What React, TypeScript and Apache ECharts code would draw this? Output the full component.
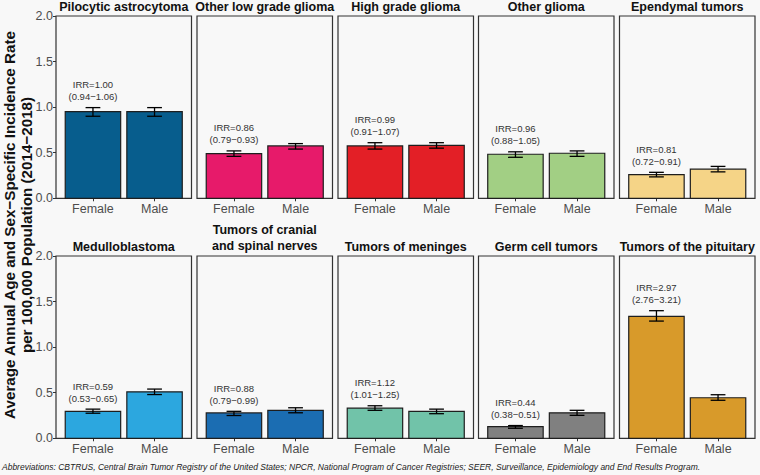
import React, { useEffect, useRef } from "react";
import * as echarts from "echarts";

const categories = [
  "Pilocytic astrocytoma",
  "Other low grade glioma",
  "High grade glioma",
  "Other glioma",
  "Ependymal tumors",
  "Medulloblastoma",
  "Tumors of cranial\nand spinal nerves",
  "Tumors of meninges",
  "Germ cell tumors",
  "Tumors of the pituitary",
];
const sexes = ["Female", "Male"];
const femaleRate = [0.95, 0.49, 0.575, 0.483, 0.26, 0.296, 0.278, 0.33, 0.127, 1.338];
const femaleLo = [0.9, 0.46, 0.54, 0.45, 0.235, 0.275, 0.25, 0.307, 0.11, 1.286];
const femaleHi = [0.995, 0.52, 0.61, 0.51, 0.285, 0.32, 0.296, 0.357, 0.14, 1.4];
const maleRate = [0.95, 0.575, 0.58, 0.494, 0.32, 0.51, 0.307, 0.296, 0.28, 0.445];
const maleLo = [0.9, 0.54, 0.55, 0.46, 0.29, 0.48, 0.28, 0.27, 0.252, 0.417];
const maleHi = [0.995, 0.6, 0.61, 0.52, 0.35, 0.54, 0.335, 0.32, 0.307, 0.478];
const irr = ["1.00", "0.86", "0.99", "0.96", "0.81", "0.59", "0.88", "1.12", "0.44", "2.97"];
const irrCI = [
  "0.94\u22121.06",
  "0.79\u22120.93",
  "0.91\u22121.07",
  "0.88\u22121.05",
  "0.72\u22120.91",
  "0.53\u22120.65",
  "0.79\u22120.99",
  "1.01\u22121.25",
  "0.38\u22120.51",
  "2.76\u22123.21",
];
const yTicks = [0, 0.5, 1, 1.5, 2];
const colors = [
  "#075d8d",
  "#e71a6a",
  "#e31f26",
  "#a2cf84",
  "#f5d487",
  "#2ca7df",
  "#1b6db2",
  "#71c3a9",
  "#808080",
  "#d89a2a",
];

const FONT = "Liberation Sans, Arial, Helvetica, sans-serif";
const BG = "#f8f8f8";

export default function App() {
  const ref = useRef<HTMLDivElement>(null);
  useEffect(() => {
    if (!ref.current) return;
    const chart = echarts.init(ref.current, null, { renderer: "svg" });

    const lefts = [56, 197, 338, 478.5, 619.5];
    const panelW = 135.5;
    const tops = [16, 256];
    const panelH = 182.3;

    const grid: any[] = [];
    const xAxis: any[] = [];
    const yAxis: any[] = [];
    const series: any[] = [];
    const graphic: any[] = [];

    categories.forEach((cat, i) => {
      const row = Math.floor(i / 5);
      const col = i % 5;
      const left = lefts[col];
      const top = tops[row];
      grid.push({
        left,
        top,
        width: panelW,
        height: panelH,
        show: true,
        backgroundColor: BG,
        borderColor: "#333333",
        borderWidth: 1.2,
      });
      xAxis.push({
        gridIndex: i,
        type: "value",
        min: 0.4,
        max: 2.6,
        axisLine: { show: false },
        splitLine: { show: false },
        axisTick: {
          show: true,
          customValues: [1, 2],
          length: 3,
          lineStyle: { color: "#333333", width: 1 },
        },
        axisLabel: {
          customValues: [1, 2],
          formatter: (v: number) => sexes[Math.round(v) - 1] ?? "",
          color: "#4d4d4d",
          fontSize: 12.5,
          fontFamily: FONT,
          margin: 4,
        },
      });
      const showY = col === 0;
      yAxis.push({
        gridIndex: i,
        type: "value",
        min: yTicks[0],
        max: yTicks[yTicks.length - 1],
        interval: 0.5,
        axisLine: { show: false },
        splitLine: { show: false },
        axisTick: {
          show: showY,
          length: 3,
          lineStyle: { color: "#333333", width: 1 },
        },
        axisLabel: {
          show: showY,
          formatter: (v: number) => v.toFixed(1),
          color: "#4d4d4d",
          fontSize: 12.5,
          fontFamily: FONT,
          margin: 3,
        },
      });
      const color = colors[i];
      const label = `IRR=${irr[i]}\n(${irrCI[i]})`;
      series.push({
        type: "custom",
        xAxisIndex: i,
        yAxisIndex: i,
        data: [
          [1, femaleRate[i], femaleLo[i], femaleHi[i]],
          [2, maleRate[i], maleLo[i], maleHi[i]],
        ],
        renderItem: (params: any, api: any) => {
          const x = api.value(0);
          const v = api.value(1);
          const lo = api.value(2);
          const hi = api.value(3);
          const base = api.coord([x, 0]);
          const topP = api.coord([x, v]);
          const w = api.size([0.9, 0])[0];
          const cap = api.size([0.24, 0])[0];
          const pLo = api.coord([x, lo]);
          const pHi = api.coord([x, hi]);
          const children: any[] = [
            {
              type: "rect",
              shape: { x: base[0] - w / 2, y: topP[1], width: w, height: base[1] - topP[1] },
              style: { fill: color, stroke: "#1e1e1e", lineWidth: 1.2 },
            },
            {
              type: "line",
              shape: { x1: pLo[0], y1: pLo[1], x2: pHi[0], y2: pHi[1] },
              style: { stroke: "#000", lineWidth: 1.3 },
            },
            {
              type: "line",
              shape: { x1: pLo[0] - cap / 2, y1: pLo[1], x2: pLo[0] + cap / 2, y2: pLo[1] },
              style: { stroke: "#000", lineWidth: 1.3 },
            },
            {
              type: "line",
              shape: { x1: pHi[0] - cap / 2, y1: pHi[1], x2: pHi[0] + cap / 2, y2: pHi[1] },
              style: { stroke: "#000", lineWidth: 1.3 },
            },
          ];
          if (params.dataIndex === 0) {
            children.push({
              type: "text",
              style: {
                text: label,
                x: pHi[0],
                y: pHi[1] - 5,
                align: "center",
                verticalAlign: "bottom",
                fontSize: 9.5,
                lineHeight: 12,
                fontFamily: FONT,
                fill: "#333333",
              },
            });
          }
          return { type: "group", children };
        },
      });
      const multi = cat.includes("\n");
      graphic.push({
        type: "text",
        x: left + panelW / 2,
        y: top - (multi ? 2.5 : 3),
        style: {
          text: cat,
          align: "center",
          verticalAlign: "bottom",
          fontSize: 12.5,
          lineHeight: multi ? 15.7 : 13,
          fontWeight: "bold",
          fontFamily: FONT,
          fill: "#111111",
        },
      });
    });

    graphic.push({
      type: "text",
      x: 18,
      y: 225,
      rotation: Math.PI / 2,
      style: {
        text:
          "Average Annual Age and Sex\u2212Specific Incidence Rate\nper 100,000 Population (2014\u22122018)",
        align: "center",
        verticalAlign: "middle",
        fontSize: 15.2,
        lineHeight: 17,
        fontWeight: "bold",
        fontFamily: FONT,
        fill: "#111111",
      },
    });
    graphic.push({
      type: "text",
      x: 2,
      y: 467,
      style: {
        text:
          "Abbreviations: CBTRUS, Central Brain Tumor Registry of the United States; NPCR, National Program of Cancer Registries; SEER, Surveillance, Epidemiology and End Results Program.",
        align: "left",
        verticalAlign: "middle",
        fontSize: 8.5,
        fontStyle: "italic",
        fontFamily: FONT,
        fill: "#222222",
      },
    });

    chart.setOption({
      animation: false,
      backgroundColor: BG,
      grid,
      xAxis,
      yAxis,
      series,
      graphic,
    });
    return () => chart.dispose();
  }, []);
  return (
    <div
      ref={ref}
      style={{ position: "fixed", left: 0, top: 0, width: 760, height: 475 }}
    />
  );
}
